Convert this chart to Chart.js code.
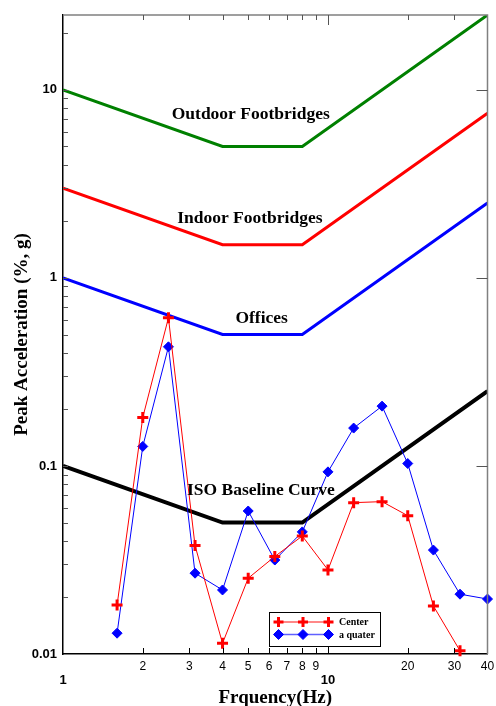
<!DOCTYPE html>
<html><head><meta charset="utf-8">
<script src="https://cdn.jsdelivr.net/npm/chart.js@4.4.1/dist/chart.umd.min.js"></script>
<style>html,body{margin:0;padding:0;background:#fff;}canvas{display:block;}</style>
</head><body>
<canvas id="c" width="496" height="706"></canvas>
<script>
// ---------- data ----------
const freqs = [1.6, 2, 2.5, 3.15, 4, 5, 6.3, 8, 10, 12.5, 16, 20, 25, 31.5, 40];
const centerValues  = [0.0182, 0.181, 0.613, 0.0377, 0.0114, 0.0253, 0.033, 0.0424, 0.028, 0.0638, 0.0646, 0.0544, 0.018, 0.0104, null];
const quarterValues = [0.0129, 0.127, 0.43, 0.0269, 0.0219, 0.0576, 0.0316, 0.0446, 0.093, 0.159, 0.208, 0.103, 0.0357, 0.0208, 0.0196];
const curveFreqs = [1, 4, 8, 40];
const isoBaseline = [0.1, 0.05, 0.05, 0.25];
const offices = [1, 0.5, 0.5, 2.5];
const indoorFootbridges = [3, 1.5, 1.5, 7.5];
const outdoorFootbridges = [10, 5, 5, 25];
const seriesNames = ['Center', 'a quater'];
const curveNames = ['Outdoor Footbridges', 'Indoor Footbridges', 'Offices', 'ISO Baseline Curve'];
const xTickValues = [1, 2, 3, 4, 5, 6, 7, 8, 9, 10, 20, 30, 40];
const xMajorTicks = [1, 10];
const yTickValues = [0.01,0.02,0.03,0.04,0.05,0.06,0.07,0.08,0.09,
                     0.1,0.2,0.3,0.4,0.5,0.6,0.7,0.8,0.9,
                     1,2,3,4,5,6,7,8,9,10,20];
const yLabelTicks = [0.01, 0.1, 1, 10];
const yTickText = ['0.01', '0.1', '1', '10'];
// curve label anchors (data coords: frequency, acceleration)
const curveLabelFreq = [5.11, 5.07, 5.62, 5.58];
const curveLabelAcc  = [7.36, 2.06, 0.605, 0.0736];

const pts = (xs, ys) => xs.map((x, i) => ({x, y: ys[i]}));
const SERIF = '"Liberation Serif", "Times New Roman", serif';
const SANS = '"Liberation Sans", Arial, sans-serif';

const decor = {
  id: 'decor',
  afterDraw(chart) {
    const {ctx, chartArea: a, scales: {x, y}} = chart;
    ctx.save();
    // top & right frame
    ctx.strokeStyle = '#808080'; ctx.lineWidth = 1.5;
    ctx.beginPath(); ctx.moveTo(a.left, a.top); ctx.lineTo(a.right, a.top); ctx.lineTo(a.right, a.bottom); ctx.stroke();
    ctx.lineWidth = 1;
    // x ticks
    xTickValues.forEach(v => {
      if (v === x.min || v === x.max) return;
      const px = Math.round(x.getPixelForValue(v)) + 0.5;
      const len = xMajorTicks.includes(v) ? 11 : 6;
      ctx.strokeStyle = '#000';
      ctx.beginPath(); ctx.moveTo(px, a.bottom); ctx.lineTo(px, a.bottom - len); ctx.stroke();
      ctx.strokeStyle = '#555';
      ctx.beginPath(); ctx.moveTo(px, a.top); ctx.lineTo(px, a.top + (xMajorTicks.includes(v) ? 10 : 5)); ctx.stroke();
    });
    // y ticks
    yTickValues.forEach(v => {
      if (v === y.min) return;
      const py = Math.round(y.getPixelForValue(v)) + 0.5;
      ctx.strokeStyle = '#555';
      ctx.beginPath(); ctx.moveTo(a.left, py); ctx.lineTo(a.left + 5, py); ctx.stroke();
      if (yLabelTicks.includes(v)) {
        ctx.beginPath(); ctx.moveTo(a.right, py); ctx.lineTo(a.right - 11, py); ctx.stroke();
      }
    });
    // curve labels
    ctx.fillStyle = '#000';
    ctx.font = 'bold 17.5px ' + SERIF;
    ctx.textAlign = 'center'; ctx.textBaseline = 'middle';
    curveNames.forEach((n, i) => {
      ctx.fillText(n, x.getPixelForValue(curveLabelFreq[i]), y.getPixelForValue(curveLabelAcc[i]));
    });
    // legend
    const lx = a.left + 206, ly = a.bottom - 42, lw = 111, lh = 34;
    ctx.fillStyle = '#fff'; ctx.fillRect(lx, ly, lw, lh);
    ctx.strokeStyle = '#000'; ctx.lineWidth = 1;
    ctx.strokeRect(lx + 0.5, ly + 0.5, lw, lh);
    const rows = [
      {c: '#ff0000', lc: '#ff6060', style: 'cross', r: 5, bw: 3, y: ly + 10},
      {c: '#0000ff', lc: '#6060ff', style: 'rectRot', r: 5, bw: 1, y: ly + 22.5}
    ];
    rows.forEach((r, i) => {
      ctx.strokeStyle = r.lc; ctx.lineWidth = 1.5;
      ctx.beginPath(); ctx.moveTo(lx + 9, r.y); ctx.lineTo(lx + 60, r.y); ctx.stroke();
      [9.5, 34, 59.5].forEach(dx => {
        ctx.strokeStyle = r.c; ctx.fillStyle = r.c; ctx.lineWidth = r.bw;
        Chart.helpers.drawPoint(ctx, {pointStyle: r.style, radius: r.r, borderWidth: r.bw, rotation: 0}, lx + dx, r.y);
      });
      ctx.fillStyle = '#000';
      ctx.font = 'bold 10px ' + SERIF;
      ctx.textAlign = 'left'; ctx.textBaseline = 'middle';
      ctx.fillText(seriesNames[i], lx + 70, r.y + 0.5);
    });
    ctx.restore();
  }
};

new Chart(document.getElementById('c'), {
  type: 'line',
  data: {
    datasets: [
      {label: seriesNames[0], data: pts(freqs, centerValues), borderColor: '#ff0000', backgroundColor: '#ff0000',
       borderWidth: 1, pointStyle: 'cross', pointRadius: 5.5, pointBorderWidth: 3, clip: false, order: 1},
      {label: seriesNames[1], data: pts(freqs, quarterValues), borderColor: '#0000ff', backgroundColor: '#0000ff',
       borderWidth: 1, pointStyle: 'rectRot', pointRadius: 5, pointBorderWidth: 1, clip: false, order: 2},
      {label: curveNames[0], data: pts(curveFreqs, outdoorFootbridges), borderColor: '#008000', borderWidth: 3, pointRadius: 0, order: 3},
      {label: curveNames[1], data: pts(curveFreqs, indoorFootbridges), borderColor: '#ff0000', borderWidth: 3, pointRadius: 0, order: 3},
      {label: curveNames[2], data: pts(curveFreqs, offices), borderColor: '#0000ff', borderWidth: 3, pointRadius: 0, order: 3},
      {label: curveNames[3], data: pts(curveFreqs, isoBaseline), borderColor: '#000000', borderWidth: 4, pointRadius: 0, order: 3}
    ]
  },
  options: {
    responsive: false,
    animation: false,
    devicePixelRatio: 1,
    layout: {padding: {left: 0, top: 15, right: 8, bottom: 0}},
    plugins: {legend: {display: false}, tooltip: {enabled: false}},
    elements: {line: {tension: 0}},
    scales: {
      x: {
        type: 'logarithmic', min: 1, max: 40,
        afterBuildTicks: s => { s.ticks = xTickValues.map(v => ({value: v})); },
        afterFit: s => { s.height = 52; s.paddingLeft = 0; s.paddingRight = 0; },
        grid: {display: false, drawTicks: false},
        border: {display: true, color: '#000', width: 1.5},
        ticks: {
          autoSkip: false, maxRotation: 0, padding: 5.5, color: '#000',
          callback: v => xMajorTicks.includes(v) ? ['', String(v)] : String(v),
          font: c => (c.tick && xMajorTicks.includes(c.tick.value))
            ? {family: SANS, size: 13, weight: 'bold', lineHeight: 1.05}
            : {family: SANS, size: 12, weight: 'normal', lineHeight: 1.2}
        },
        title: {display: true, text: 'Frquency(Hz)', color: '#000',
                font: {family: SERIF, size: 19, weight: 'bold', lineHeight: 0.85}, padding: 0}
      },
      y: {
        type: 'logarithmic', min: 0.01, max: 25,
        afterBuildTicks: s => { s.ticks = yTickValues.map(v => ({value: v})); },
        afterFit: s => { s.width = 63; s.paddingTop = 0; s.paddingBottom = 0; },
        grid: {display: false, drawTicks: false},
        border: {display: true, color: '#000', width: 1.5},
        ticks: {
          autoSkip: false, padding: 6, color: '#000',
          font: {family: SANS, size: 13, weight: 'bold'},
          callback: v => { const i = yLabelTicks.indexOf(v); return i >= 0 ? yTickText[i] : ''; }
        },
        title: {display: true, text: 'Peak Acceleration (%, g)', color: '#000',
                font: {family: SERIF, size: 19, weight: 'bold'}, padding: {top: 11, bottom: 0}}
      }
    }
  },
  plugins: [decor]
});
</script>
</body></html>
